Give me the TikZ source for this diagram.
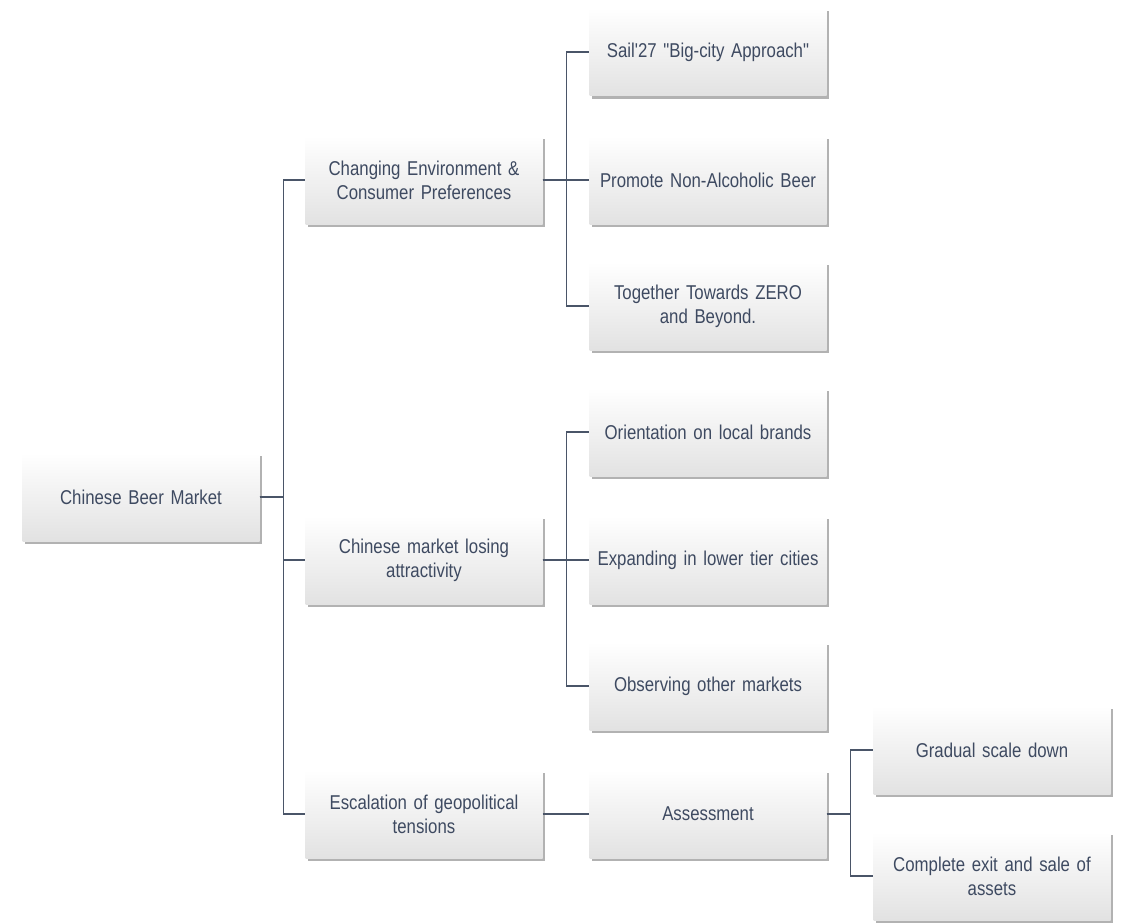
\documentclass[tikz,border=0pt]{standalone}
\usepackage{fontspec}
\newfontfamily\boxfont{Liberation Sans}[FakeStretch=0.84]
\usepackage{tikz}
\usepackage{xcolor}
\usetikzlibrary{positioning}
\definecolor{cText}{HTML}{3E4A61}
\definecolor{cLine}{HTML}{4A5568}
\definecolor{cShade}{HTML}{E2E2E2}

\begin{document}
\begin{tikzpicture}[
      x=1pt, y=-1pt,
      box/.style={minimum width=237pt, minimum height=88pt, inner sep=2pt, text width=228pt,
        align=center, font=\boxfont\fontsize{20}{24}\selectfont, text=cText,
        top color=white, bottom color=cShade, draw=none,
        preaction={fill=black!55, opacity=0.55, transform canvas={xshift=2pt, yshift=-3pt}}},
      link/.style={draw=cLine, line width=1.2pt}
    ]
      \useasboundingbox (0,0) rectangle (1122,923);

      % root and first level
      \node[box] (root) at (141,497) {Chinese Beer Market};
      \node[box] (chg) at (424,180) {Changing Environment \&\\Consumer Preferences};
      \node[box] (lose) at (424,560) {Chinese market losing\\attractivity};
      \node[box] (geo) at (424,814) {Escalation of geopolitical\\tensions};

      % second level
      \node[box] (sail) at (708,52) {Sail'27 "Big-city Approach"};
      \node[box] (nab) at (708,180) {Promote Non-Alcoholic Beer};
      \node[box] (zero) at (708,306) {Together Towards ZERO\\and Beyond.};
      \node[box] (local) at (708,432) {Orientation on local brands};
      \node[box] (tier) at (708,560) {Expanding in lower tier cities};
      \node[box] (other) at (708,686) {Observing other markets};
      \node[box] (assess) at (708,814) {Assessment};

      % third level
      \node[box] (scale) at (992,750) {Gradual scale down};
      \node[box] (exit) at (992,876) {Complete exit and sale of\\assets};

      \draw[link] (root.east) -- ++(24,0) |- (chg.west);
      \draw[link] (root.east) -- ++(24,0) |- (lose.west);
      \draw[link] (root.east) -- ++(24,0) |- (geo.west);

      \draw[link] (chg.east) -- ++(24,0) |- (sail.west);
      \draw[link] (chg.east) -- (nab.west);
      \draw[link] (chg.east) -- ++(24,0) |- (zero.west);

      \draw[link] (lose.east) -- ++(24,0) |- (local.west);
      \draw[link] (lose.east) -- (tier.west);
      \draw[link] (lose.east) -- ++(24,0) |- (other.west);

      \draw[link] (geo.east) -- (assess.west);
      \draw[link] (assess.east) -- ++(24,0) |- (scale.west);
      \draw[link] (assess.east) -- ++(24,0) |- (exit.west);
    \end{tikzpicture}
\end{document}
